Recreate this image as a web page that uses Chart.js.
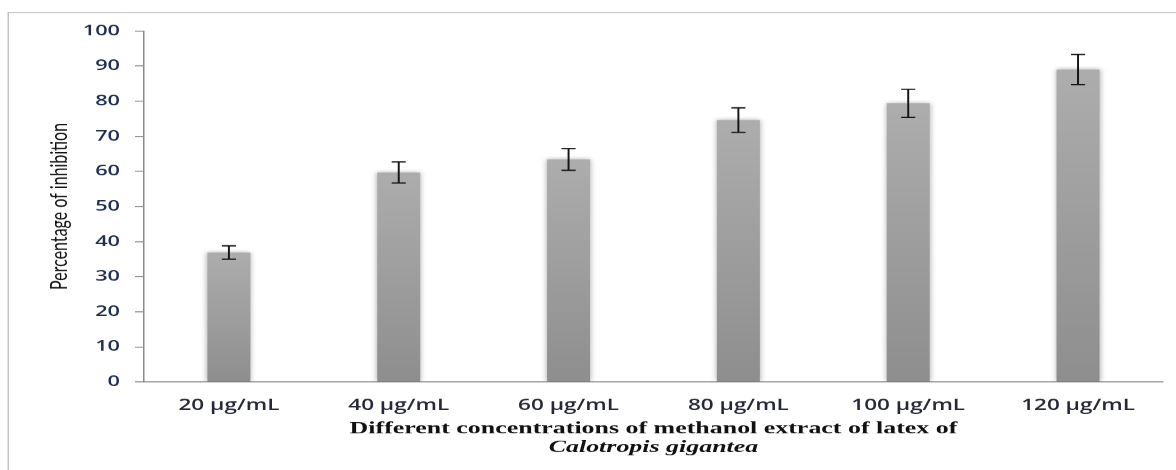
<!DOCTYPE html>
<html>
<head>
<meta charset="utf-8">
<script src="https://cdn.jsdelivr.net/npm/chart.js@4"></script>
<style>
  html, body { margin: 0; padding: 0; background: #ffffff; overflow: hidden; }
  #frame { width: 784px; height: 470px; transform: scaleX(1.5); transform-origin: 0 0; }
  #chart { display: block; }
</style>
</head>
<body>
<div id="frame"><canvas id="chart" width="784" height="470"></canvas></div>
<script>
// Concentrations tested
const categories = ['20 μg/mL', '40 μg/mL', '60 μg/mL', '80 μg/mL', '100 μg/mL', '120 μg/mL'];
// Mean percentage of inhibition
const inhibition = [36.9, 59.7, 63.4, 74.6, 79.4, 89.0];
// Standard deviation for each concentration
const errors = [1.9, 3.0, 3.1, 3.5, 4.0, 4.3];
// Y axis range and step
const yMin = 0;
const yMax = 100;
const yStep = 10;

const axisGrey = '#8a8a8a';

// Thin frame around the figure
const framePlugin = {
  id: 'frame',
  beforeDraw(chart) {
    const c = chart.ctx;
    c.save();
    c.strokeStyle = '#c4c4c4';
    c.lineWidth = 1;
    c.beginPath();
    c.moveTo(5.5, chart.height);
    c.lineTo(5.5, 12.5);
    c.lineTo(chart.width, 12.5);
    c.stroke();
    c.restore();
  }
};

// Soft shadow around the bars
const barShadow = {
  id: 'barShadow',
  beforeDatasetDraw(chart) {
    const c = chart.ctx;
    c.save();
    c.shadowColor = 'rgba(0,0,0,0.35)';
    c.shadowBlur = 6;
    c.shadowOffsetX = 0;
    c.shadowOffsetY = 0;
  },
  afterDatasetDraw(chart) {
    chart.ctx.restore();
  }
};

// Error bars (mean ± SD) with caps
const errorBars = {
  id: 'errorBars',
  afterDatasetsDraw(chart) {
    const c = chart.ctx;
    const y = chart.scales.y;
    const meta = chart.getDatasetMeta(0);
    c.save();
    c.strokeStyle = '#151515';
    c.lineWidth = 1.3;
    meta.data.forEach((bar, i) => {
      const x = bar.x;
      const top = y.getPixelForValue(inhibition[i] + errors[i]);
      const bot = y.getPixelForValue(inhibition[i] - errors[i]);
      const cap = 4.7;
      c.beginPath();
      c.moveTo(x, top); c.lineTo(x, bot);
      c.moveTo(x - cap, top); c.lineTo(x + cap, top);
      c.moveTo(x - cap, bot); c.lineTo(x + cap, bot);
      c.stroke();
    });
    c.restore();
  }
};

function barGradient(ctx) {
  const chart = ctx.chart;
  if (!chart.chartArea || !chart.scales.y) return '#9c9c9c';
  const y = chart.scales.y;
  const v = ctx.raw;
  const g = chart.ctx.createLinearGradient(0, y.getPixelForValue(0), 0, y.getPixelForValue(v));
  g.addColorStop(0, '#8e8e8e');
  g.addColorStop(1, '#adadad');
  return g;
}

new Chart(document.getElementById('chart'), {
  type: 'bar',
  data: {
    labels: categories,
    datasets: [{
      data: inhibition,
      backgroundColor: barGradient,
      borderWidth: 0,
      barPercentage: 0.253,
      categoryPercentage: 1.0
    }]
  },
  plugins: [framePlugin, barShadow, errorBars],
  options: {
    responsive: false,
    animation: false,
    devicePixelRatio: 1.5,
    layout: { padding: { left: 0, right: 8.7, top: 31, bottom: 12.8 } },
    plugins: {
      legend: { display: false },
      tooltip: { enabled: false },
      title: {
        display: true,
        position: 'bottom',
        fullSize: false,
        text: 'Calotropis gigantea',
        color: '#111111',
        font: { family: '"Liberation Serif", "Times New Roman", serif', size: 17.3, weight: 'bold', style: 'italic', lineHeight: 1.1 },
        padding: { top: 0, bottom: 0 }
      }
    },
    scales: {
      x: {
        grid: { display: false },
        border: { display: true, color: axisGrey, width: 1 },
        ticks: {
          color: '#26283a',
          padding: 7,
          font: { family: '"Open Sans", sans-serif', size: 15, weight: '600' }
        },
        title: {
          display: true,
          text: 'Different concentrations of methanol extract of latex of',
          color: '#111111',
          font: { family: '"Liberation Serif", "Times New Roman", serif', size: 17.3, weight: 'bold', lineHeight: 1.1 },
          padding: { top: 0, bottom: 0 }
        },
        afterFit(scale) { scale.height = 56.2; }
      },
      y: {
        min: yMin,
        max: yMax,
        ticks: {
          stepSize: yStep,
          color: '#1f2d52',
          padding: 10,
          font: { family: '"Open Sans", sans-serif', size: 14.5, weight: '600' }
        },
        grid: {
          display: true,
          drawOnChartArea: false,
          drawTicks: true,
          tickLength: 6,
          color: axisGrey
        },
        border: { display: true, color: axisGrey, width: 1 },
        title: {
          display: true,
          text: 'Percentage of inhibition',
          color: '#111111',
          font: { family: 'Lato, sans-serif', size: 16, lineHeight: 1.2 },
          padding: { top: 29.7, bottom: 0 }
        },
        afterFit(scale) { scale.width = 96; }
      }
    }
  }
});
</script>
</body>
</html>
